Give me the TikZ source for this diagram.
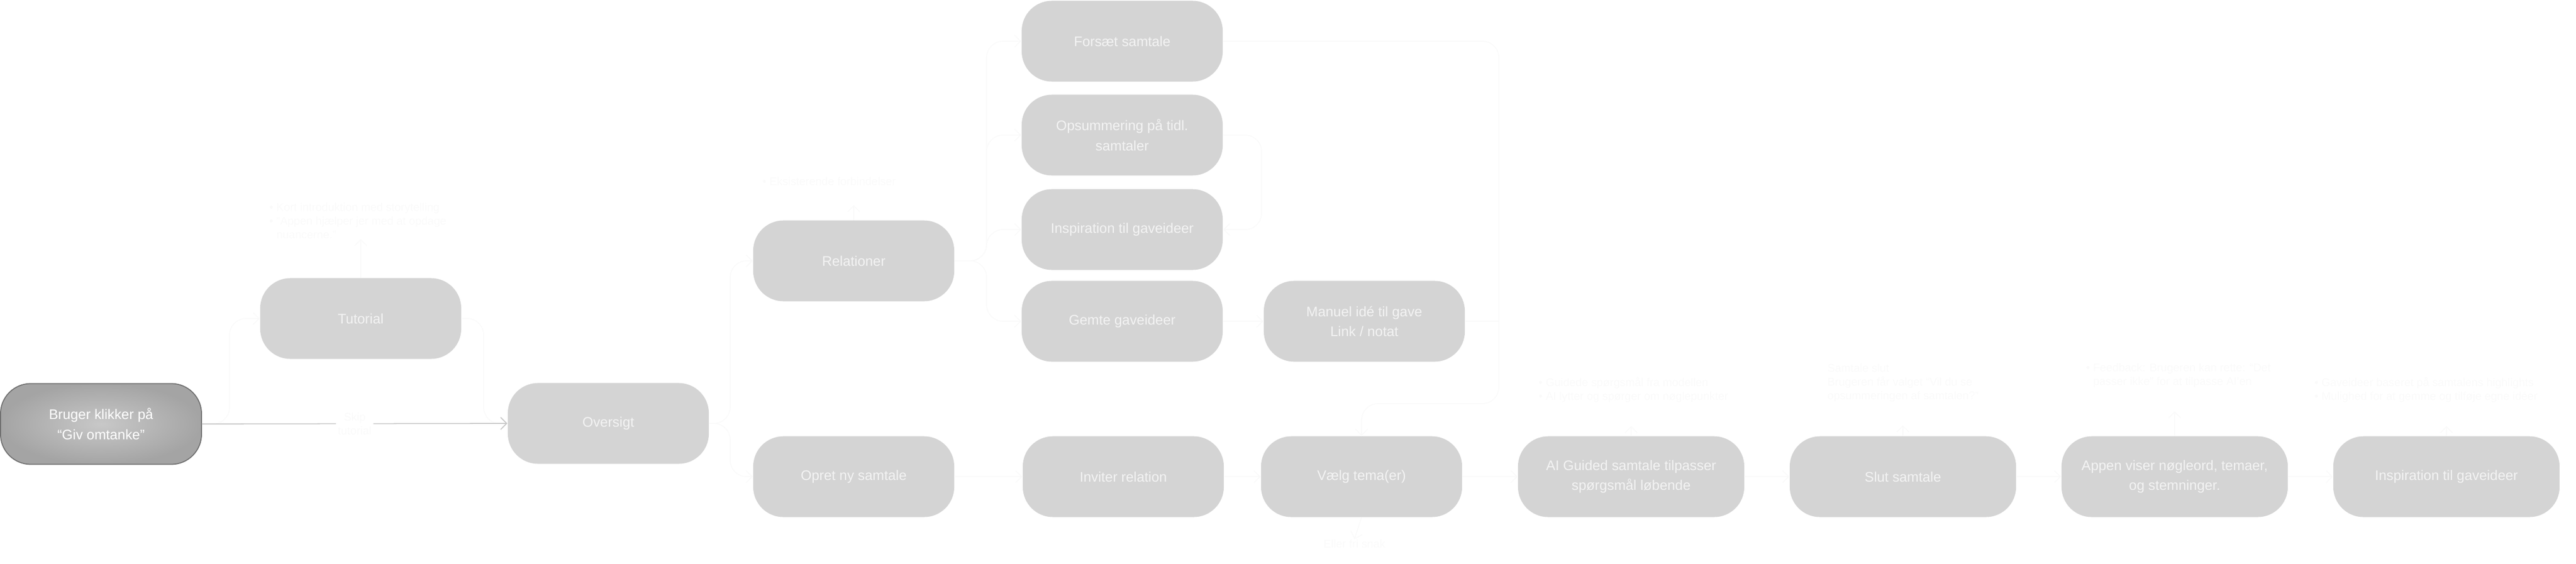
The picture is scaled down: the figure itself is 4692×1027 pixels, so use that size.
\documentclass[tikz,border=0pt]{standalone}
\usepackage{fontspec}
\setmainfont{Liberation Sans}
\usetikzlibrary{arrows.meta}

\definecolor{boxgray}{RGB}{212,212,212}
\definecolor{boxtext}{RGB}{243,243,243}
\definecolor{linegray}{RGB}{250,250,250}
\definecolor{maingray}{RGB}{200,200,200}
\definecolor{notegray}{RGB}{250,250,250}
\definecolor{startout}{RGB}{164,164,164}
\definecolor{startin}{RGB}{200,200,200}
\definecolor{startedge}{RGB}{110,110,110}

\tikzset{
  stepbox/.style={fill=boxgray, text=boxtext, rounded corners=0.55cm,
    minimum width=3.66cm, minimum height=1.47cm, align=center, inner sep=2pt,
    font=\fontsize{7.2}{10.3}\selectfont},
  widebox/.style={stepbox, minimum width=4.12cm},
  startbox/.style={stepbox, draw=startedge, line width=0.5pt,
    inner color=startin, outer color=startout, text=white},
  notetext/.style={text=notegray, align=left, inner sep=0pt,
    font=\fontsize{5.8}{7.1}\selectfont},
  skiplabel/.style={fill=white, text=notegray, align=center, inner sep=1pt,
    font=\fontsize{5.8}{7.1}\selectfont},
  flow/.style={draw=linegray, line width=0.5pt, rounded corners=0.3cm,
    -{Straight Barb[length=1.1mm,width=2.2mm]}},
  flowline/.style={draw=linegray, line width=0.5pt, rounded corners=0.3cm},
}

\begin{document}
\begin{tikzpicture}[x=0.01cm, y=-0.01cm]
\useasboundingbox (0,0) rectangle (4692,1027);

% steps
\node[startbox] (bruger) at (184,772) {Bruger klikker på\\“Giv omtanke”};
\node[stepbox] (tutorial) at (657,580) {Tutorial};
\node[stepbox] (oversigt) at (1108,771) {Oversigt};
\node[stepbox] (relationer) at (1555,475) {Relationer};
\node[stepbox] (opret) at (1555,868) {Opret ny samtale};

\node[stepbox] (forsaet) at (2044,75) {Forsæt samtale};
\node[stepbox] (opsum) at (2044,246) {Opsummering på tidl.\\samtaler};
\node[stepbox] (insp) at (2044,418) {Inspiration til gaveideer};
\node[stepbox] (gemte) at (2044,585) {Gemte gaveideer};
\node[stepbox] (manuel) at (2485,585) {Manuel idé til gave\\Link / notat};

\node[stepbox] (inviter) at (2046,868) {Inviter relation};
\node[stepbox] (vaelg) at (2480,868) {Vælg tema(er)};
\node[widebox] (aiguide) at (2971,868) {AI Guided samtale tilpasser\\spørgsmål løbende};
\node[widebox] (slut) at (3466,868) {Slut samtale};
\node[widebox] (appen) at (3961,868) {Appen viser nøgleord, temaer,\\og stemninger.};
\node[widebox] (inspgave) at (4456,868) {Inspiration til gaveideer};

% notes
\node[notetext, anchor=west] (ntut) at (490,402)
  {• Kort introduktion med storytelling\\• “Appen hjælper jer med at opdage\\\phantom{• }nuancerne.”};
\node[notetext, anchor=west] (nrel) at (1388,330) {• Eksisterende forbindelser};
\node[notetext] (nvaelg) at (2467,990) {Eller fri snak};
\node[notetext, anchor=west] (nai) at (2802,710)
  {• Guidede spørgsmål fra modellen\\• AI lytter og spørger om nøglepunkter};
\node[notetext, anchor=west] (nslut) at (3328,697)
  {Samtale slut\\Brugeren får valget “Vil du se\\opsummeringen af samtalen?”};
\node[notetext, anchor=west] (napp) at (3799,684)
  {• Feedback: Brugeren kan rette: “Det\\\phantom{• }passer ikke” for at tilpasse AI’en};
\node[notetext, anchor=west] (ninsp) at (4215,710)
  {• Gaveideer baseret på samtalens highlights\\• Mulighed for at gemme og tilføje egne idéer};

% connectors
\draw[flow] (bruger.east) -- (418,772) |- (tutorial.west);
\draw[flow] (tutorial.east) -| (881,772) -- (oversigt.west);
\draw[flow, draw=maingray] (bruger.east) -- node[skiplabel] (skip) {Skip\\tutorial} (oversigt.west);
\draw[flow] (tutorial.north) -- (tutorial.north |- ntut.south);

\draw[flow] (oversigt.east) -- (1330,771) |- (relationer.west);
\draw[flow] (oversigt.east) -- (1330,771) |- (opret.west);
\draw[flow, shorten >=10] (relationer.north) -- (relationer.north |- nrel.south);

\foreach \b in {forsaet,opsum,insp,gemte}
  \draw[flow] (relationer.east) -- (1797,475) |- (\b.west);

\draw[flow] (opsum.east) -- (2298,246) |- (insp.east);
\draw[flow] (gemte) -- (manuel);
\draw[flow] (forsaet.east) -| (2730,735) -| (vaelg.north);
\draw[flowline] (manuel.east) -- (2730,585);

\foreach \a/\b in {opret/inviter,inviter/vaelg,vaelg/aiguide,aiguide/slut,slut/appen,appen/inspgave}
  \draw[flow] (\a) -- (\b);

\draw[flow] (vaelg.south) -- (nvaelg.north);
\draw[flow, shorten >=12] (aiguide.north) -- (aiguide.north |- nai.south);
\draw[flow, shorten >=12] (slut.north) -- (slut.north |- nslut.south);
\draw[flow, shorten >=12] (appen.north) -- (appen.north |- napp.south);
\draw[flow, shorten >=12] (inspgave.north) -- (inspgave.north |- ninsp.south);

\end{tikzpicture}
\end{document}
